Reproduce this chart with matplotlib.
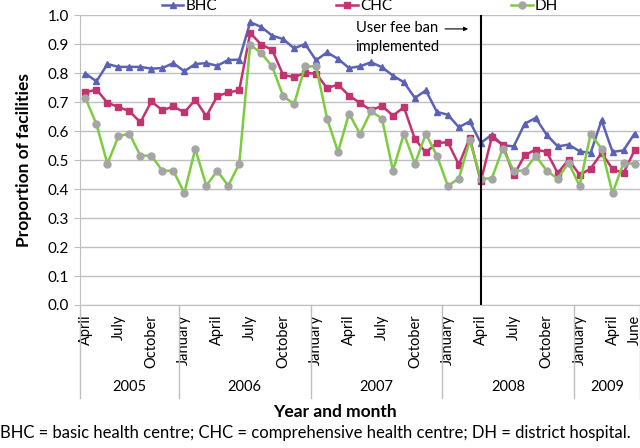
import matplotlib
matplotlib.use("Agg")
import matplotlib.pyplot as plt
import matplotlib.transforms as mtransforms

plt.rcParams['font.family'] = ['Lato', 'DejaVu Sans']

# months April 2005 .. June 2009 (51 points)
bhc = [0.798, 0.771, 0.831, 0.821, 0.821, 0.821, 0.815, 0.817, 0.834, 0.806,
       0.831, 0.834, 0.825, 0.845, 0.846, 0.975, 0.959, 0.929, 0.917, 0.885,
       0.900, 0.844, 0.871, 0.849, 0.817, 0.823, 0.837, 0.820, 0.791, 0.768,
       0.714, 0.740, 0.666, 0.656, 0.613, 0.633, 0.559, 0.587, 0.551, 0.547,
       0.625, 0.645, 0.587, 0.547, 0.553, 0.530, 0.524, 0.637, 0.528, 0.533,
       0.591]
chc = [0.733, 0.743, 0.697, 0.683, 0.668, 0.630, 0.702, 0.671, 0.685, 0.664,
       0.708, 0.651, 0.720, 0.733, 0.740, 0.938, 0.898, 0.880, 0.793, 0.786,
       0.800, 0.798, 0.748, 0.760, 0.722, 0.697, 0.671, 0.687, 0.653, 0.682,
       0.572, 0.526, 0.559, 0.561, 0.484, 0.576, 0.426, 0.578, 0.553, 0.447,
       0.516, 0.536, 0.528, 0.455, 0.501, 0.449, 0.470, 0.524, 0.469, 0.455,
       0.533]
dh = [0.713, 0.623, 0.487, 0.582, 0.591, 0.515, 0.515, 0.463, 0.463, 0.386,
      0.539, 0.411, 0.463, 0.411, 0.487, 0.897, 0.869, 0.823, 0.720, 0.693,
      0.823, 0.823, 0.643, 0.528, 0.660, 0.590, 0.668, 0.643, 0.463, 0.591,
      0.487, 0.591, 0.515, 0.411, 0.436, 0.568, 0.436, 0.436, 0.539, 0.463,
      0.463, 0.515, 0.463, 0.436, 0.490, 0.411, 0.590, 0.539, 0.386, 0.490,
      0.487]

month_names = ['April', 'July', 'October', 'January'] * 4 + ['April', 'June']
month_pos = [0, 3, 6, 9, 12, 15, 18, 21, 24, 27, 30, 33, 36, 39, 42, 45, 48, 50]
years = ['2005', '2006', '2007', '2008', '2009']
year_bounds = [-0.5, 8.5, 20.5, 32.5, 44.5, 50.5]
ban_month = 36

x = list(range(len(bhc)))
grey = '#bfbfbf'

fig = plt.figure(figsize=(6.4, 4.48), dpi=100)
ax = fig.add_axes([80/640, 1 - 305/448, 560/640, 290/448])

ax.plot(x, bhc, color='#5b62b5', lw=1.8, marker='^', ms=5, label='BHC')
ax.plot(x, chc, color='#c3336f', lw=1.8, marker='s', ms=4.5, label='CHC')
ax.plot(x, dh, color='#7ccc3f', lw=1.8, marker='o', ms=5,
        mfc='#a5a5a5', mec='#a5a5a5', label='DH')

ax.axvline(ban_month, color='black', lw=1.5)
ax.text(24.6, 0.922, 'User fee ban\nimplemented', fontsize=10.5,
        va='center', ha='left', linespacing=1.4)
ax.annotate('', xy=(35.1, 0.952), xytext=(32.5, 0.952),
            arrowprops=dict(arrowstyle='-|>', color='black', lw=0.8,
                            mutation_scale=6))

ax.set_xlim(-0.5, 50.5)
ax.set_ylim(0, 1.0)
ax.set_yticks([i / 10 for i in range(11)])
ax.set_yticklabels([f'{i/10:.1f}' for i in range(11)], fontsize=11)
ax.yaxis.grid(True, color=grey, lw=1)
ax.set_axisbelow(True)
ax.tick_params(axis='y', length=4, color=grey, pad=4)

ax.set_xticks(month_pos)
ax.set_xticklabels(month_names, rotation=90, fontsize=10.5, va='top', ha='center')
ax.tick_params(axis='x', length=0, pad=7)

for s in ['top', 'right']:
    ax.spines[s].set_visible(False)
for s in ['left', 'bottom']:
    ax.spines[s].set_color(grey)

trans = mtransforms.blended_transform_factory(ax.transData, ax.transAxes)
for b in year_bounds:
    ax.plot([b, b], [0, -0.32], color=grey, lw=1, transform=trans, clip_on=False)
for i, yr in enumerate(years):
    mid = (year_bounds[i] + year_bounds[i + 1]) / 2
    ax.text(mid, -0.283, yr, transform=trans, ha='center', va='center', fontsize=10.5)

ax.set_ylabel('Proportion of facilities', fontsize=12.5, fontweight='bold', labelpad=11)

ax.legend(loc='center', bbox_to_anchor=(0.50, 1.031), ncol=3, frameon=False,
          fontsize=11, handlelength=1.4, handletextpad=0.15, columnspacing=7.8,
          borderaxespad=0, borderpad=0)

fig.text(335/640, 1 - 412/448, 'Year and month', ha='center', va='center',
         fontsize=12.5, fontweight='bold')
fig.text(0.0, 1 - 433/448,
         'BHC = basic health centre; CHC = comprehensive health centre; DH = district hospital.',
         ha='left', va='center', fontsize=12)

fig.savefig('out.png', dpi=100)
